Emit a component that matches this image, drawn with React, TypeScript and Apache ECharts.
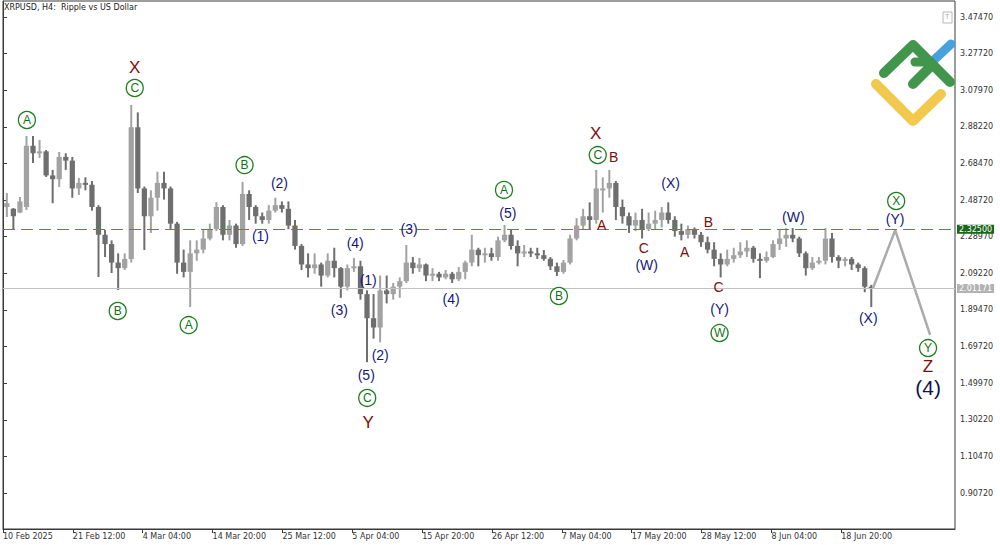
import React, { useEffect, useRef } from "react";
import * as echarts from "echarts";

// ---- time base (H4 bars counted from the first visible bar) ----
const FIRST_BAR_TIME = Date.UTC(2025, 1, 10, 20);
const FIRST_DAY = Date.UTC(2025, 1, 11);
const H4_MS = 4 * 3600 * 1000;
const DAY_MS = 24 * 3600 * 1000;

// ---- daily OHLC (11 Feb 2025 .. 23 Jun 2025) ----
const opens = [
  2.45, 2.44, 2.42, 2.45, 2.78, 2.74, 2.75, 2.62, 2.60, 2.72,
  2.70, 2.55, 2.58, 2.57, 2.45, 2.30, 2.25, 2.15, 2.12, 2.17,
  2.88, 2.55, 2.40, 2.50, 2.58, 2.55, 2.36, 2.15, 2.10, 2.20,
  2.22, 2.28, 2.33, 2.45, 2.30, 2.35, 2.25, 2.52, 2.45, 2.40,
  2.38, 2.43, 2.46, 2.44, 2.35, 2.24, 2.14, 2.12, 2.14, 2.08,
  2.16, 2.12, 2.02, 2.12, 2.13, 1.98, 1.85, 1.80, 2.00, 1.98,
  2.02, 2.05, 2.15, 2.12, 2.14, 2.08, 2.09, 2.07, 2.09, 2.06,
  2.10, 2.15, 2.22, 2.19, 2.20, 2.18, 2.27, 2.30, 2.24, 2.20,
  2.21, 2.20, 2.19, 2.17, 2.13, 2.10, 2.15, 2.28, 2.35, 2.40,
  2.38, 2.55, 2.55, 2.58, 2.45, 2.40, 2.35, 2.38, 2.33, 2.36,
  2.38, 2.42, 2.38, 2.32, 2.30, 2.33, 2.30, 2.26, 2.22, 2.17,
  2.14, 2.17, 2.19, 2.21, 2.23, 2.17, 2.16, 2.18, 2.25, 2.28,
  2.30, 2.28, 2.20, 2.12, 2.15, 2.16, 2.28, 2.18, 2.16, 2.17,
  2.14, 2.12, 2.02,
];
const highs = [
  2.525, 2.444, 2.504, 2.833, 2.833, 2.811, 2.757, 2.65, 2.747, 2.74,
  2.72, 2.607, 2.61, 2.59, 2.46, 2.326, 2.27, 2.20, 2.20, 3.00,
  2.96, 2.56, 2.54, 2.64, 2.64, 2.56, 2.37, 2.22, 2.27, 2.27,
  2.33, 2.36, 2.476, 2.46, 2.38, 2.36, 2.585, 2.54, 2.46, 2.42,
  2.46, 2.50, 2.48, 2.48, 2.38, 2.25, 2.20, 2.20, 2.15, 2.20,
  2.23, 2.126, 2.14, 2.175, 2.16, 2.00, 1.98, 2.08, 2.08, 2.04,
  2.07, 2.245, 2.18, 2.175, 2.145, 2.12, 2.10, 2.11, 2.10, 2.126,
  2.16, 2.30, 2.23, 2.23, 2.23, 2.29, 2.353, 2.33, 2.27, 2.245,
  2.23, 2.23, 2.218, 2.18, 2.15, 2.164, 2.30, 2.39, 2.44, 2.475,
  2.65, 2.61, 2.65, 2.59, 2.49, 2.42, 2.42, 2.44, 2.42, 2.43,
  2.45, 2.475, 2.40, 2.36, 2.35, 2.34, 2.315, 2.29, 2.26, 2.20,
  2.22, 2.23, 2.26, 2.27, 2.24, 2.20, 2.21, 2.27, 2.326, 2.336,
  2.336, 2.29, 2.21, 2.18, 2.18, 2.336, 2.31, 2.19, 2.18, 2.18,
  2.15, 2.13, 2.03,
];
const lows = [
  2.396, 2.331, 2.417, 2.434, 2.687, 2.714, 2.612, 2.47, 2.558, 2.65,
  2.50, 2.515, 2.54, 2.43, 2.072, 2.18, 2.094, 2.002, 2.11, 2.15,
  2.525, 2.218, 2.31, 2.43, 2.49, 2.33, 2.09, 2.07, 1.91, 2.16,
  2.20, 2.27, 2.32, 2.27, 2.27, 2.23, 2.24, 2.38, 2.36, 2.36,
  2.36, 2.42, 2.42, 2.33, 2.22, 2.11, 2.07, 2.09, 2.02, 2.07,
  2.07, 1.96, 2.00, 2.10, 1.95, 1.613, 1.74, 1.72, 1.93, 1.95,
  1.96, 2.04, 2.09, 2.10, 2.05, 2.05, 2.05, 2.06, 2.04, 2.05,
  2.06, 2.13, 2.13, 2.15, 2.16, 2.16, 2.26, 2.22, 2.13, 2.18,
  2.18, 2.17, 2.16, 2.11, 2.078, 2.09, 2.14, 2.27, 2.33, 2.33,
  2.36, 2.42, 2.50, 2.38, 2.36, 2.31, 2.32, 2.28, 2.32, 2.33,
  2.34, 2.36, 2.29, 2.27, 2.28, 2.28, 2.235, 2.20, 2.13, 2.07,
  2.13, 2.15, 2.175, 2.18, 2.15, 2.066, 2.15, 2.175, 2.218, 2.235,
  2.26, 2.18, 2.08, 2.11, 2.14, 2.14, 2.15, 2.12, 2.13, 2.11,
  2.10, 1.99, 1.91,
];
const closes = [
  2.47, 2.40, 2.48, 2.78, 2.74, 2.75, 2.62, 2.60, 2.72, 2.70,
  2.55, 2.58, 2.57, 2.45, 2.30, 2.25, 2.15, 2.12, 2.17, 2.88,
  2.55, 2.40, 2.50, 2.58, 2.55, 2.36, 2.15, 2.10, 2.20, 2.22,
  2.28, 2.33, 2.45, 2.30, 2.35, 2.25, 2.52, 2.45, 2.40, 2.38,
  2.43, 2.46, 2.44, 2.35, 2.24, 2.14, 2.12, 2.14, 2.08, 2.16,
  2.12, 2.02, 2.12, 2.13, 1.98, 1.85, 1.80, 2.00, 1.98, 2.02,
  2.05, 2.15, 2.12, 2.14, 2.08, 2.09, 2.07, 2.09, 2.06, 2.10,
  2.15, 2.22, 2.19, 2.20, 2.18, 2.27, 2.30, 2.24, 2.20, 2.21,
  2.20, 2.19, 2.17, 2.13, 2.10, 2.15, 2.28, 2.35, 2.40, 2.38,
  2.55, 2.55, 2.58, 2.45, 2.40, 2.35, 2.38, 2.33, 2.36, 2.38,
  2.42, 2.38, 2.32, 2.30, 2.33, 2.30, 2.26, 2.22, 2.17, 2.14,
  2.17, 2.19, 2.21, 2.23, 2.17, 2.16, 2.18, 2.25, 2.28, 2.30,
  2.28, 2.20, 2.12, 2.15, 2.16, 2.28, 2.18, 2.16, 2.17, 2.14,
  2.12, 2.02, 2.01171,
];

// ---- axes ----
const xTickBars = [0, 64, 128, 192, 256, 320, 384, 448, 512, 576, 640, 704, 768];
const xTickLabels = [
  "10 Feb 2025", "21 Feb 12:00", "4 Mar 04:00", "14 Mar 20:00", "25 Mar 12:00",
  "5 Apr 04:00", "15 Apr 20:00", "26 Apr 12:00", "7 May 04:00", "17 May 20:00",
  "28 May 12:00", "8 Jun 04:00", "18 Jun 20:00",
];
const yTickValues = [
  3.4747, 3.2772, 3.0797, 2.8822, 2.6847, 2.4872, 2.2897,
  2.0922, 1.8947, 1.6972, 1.4997, 1.3022, 1.1047, 0.9072,
];
const X_MIN = 0;
const X_MAX = 872.2;
const Y_MIN = 0.7131;
const Y_MAX = 3.561;

// ---- levels ----
const levelPrice = 2.325;
const lastPrice = 2.01171;

// ---- forecast path (H4 bar index, price) ----
const forecastBars = [797, 817.4, 849.4];
const forecastPrices = [2.01171, 2.325, 1.76];

// ---- wave labels (H4 bar index, price, text) ----
const circledLabels: [number, number, string][] = [
  [21.9, 2.919, "A"], [120.7, 3.092, "C"], [105.1, 1.889, "B"], [170.1, 1.813, "A"],
  [221.3, 2.676, "B"], [333.7, 1.42, "C"], [459, 2.542, "A"], [509.3, 1.97, "B"],
  [544.9, 2.73, "C"], [656.5, 1.77, "W"], [818.3, 2.482, "X"], [847.5, 1.689, "Y"],
];
const blueLabels: [number, number, string][] = [
  [253.3, 2.579, "(2)"], [235.9, 2.293, "(1)"], [322.7, 2.256, "(4)"], [308.1, 1.894, "(3)"],
  [334.6, 2.056, "(1)"], [345.6, 1.652, "(2)"], [332.8, 1.544, "(5)"], [372.1, 2.331, "(3)"],
  [410.5, 1.954, "(4)"], [462.6, 2.418, "(5)"], [589.7, 2.137, "(W)"], [611.7, 2.579, "(X)"],
  [656.5, 1.9, "(Y)"], [724.1, 2.396, "(W)"], [817.4, 2.385, "(Y)"], [792.7, 1.851, "(X)"],
];
const redBigLabels: [number, number, string][] = [
  [120.7, 3.2, "X"], [334.6, 1.29, "Y"], [543.1, 2.849, "X"], [847.5, 1.587, "Z"],
];
const redSmallLabels: [number, number, string][] = [
  [559.5, 2.72, "B"], [548.6, 2.353, "A"], [587, 2.229, "C"],
  [646.4, 2.369, "B"], [624.5, 2.207, "A"], [655.5, 2.018, "C"],
];
const degreeLabels: [number, number, string][] = [[847.5, 1.479, "(4)"]];

const FONT = "DejaVu Sans";

function labelSeries(data: [number, number, string][], color: string, size: number, circled = false) {
  return {
    type: "scatter",
    data,
    symbol: "circle",
    symbolSize: circled ? 17 : 1,
    itemStyle: circled
      ? { color: "#ffffff", borderColor: "#1f7f1f", borderWidth: 1.3, opacity: 1 }
      : { color: "rgba(0,0,0,0)", borderWidth: 0, opacity: 1 },
    label: {
      show: true,
      position: "inside",
      formatter: (p: any) => p.data[2],
      color,
      opacity: 1,
      textBorderWidth: 0,
      fontSize: size,
      fontFamily: "Liberation Sans",
    },
    emphasis: { disabled: true },
    labelLayout: { hideOverlap: false },
    z: 10,
    clip: false,
    silent: true,
  };
}

export default function App() {
  const ref = useRef<HTMLDivElement>(null);
  useEffect(() => {
    if (!ref.current) return;
    const chart = echarts.init(ref.current, undefined, { renderer: "svg" });

    const candles = opens.map((o, i) => {
      const dayStart = FIRST_DAY + i * DAY_MS;
      const bar = (dayStart - FIRST_BAR_TIME) / H4_MS + 2.5;
      return [bar, o, closes[i], lows[i], highs[i]];
    });

    const option: any = {
      animation: false,
      backgroundColor: "#ffffff",
      grid: { left: 1, top: 1, right: 45, bottom: 16, show: true, borderColor: "#3a3a3a", borderWidth: 1 },
      xAxis: {
        type: "value",
        min: X_MIN,
        max: X_MAX,
        splitLine: { show: false },
        axisLine: { show: true, lineStyle: { color: "#3a3a3a" } },
        axisTick: { show: true, customValues: xTickBars, length: 4, lineStyle: { color: "#3a3a3a" } },
        axisLabel: {
          customValues: xTickBars,
          formatter: (v: number) => xTickLabels[Math.round(v / 64)] ?? "",
          align: "left",
          margin: 3,
          fontSize: 8,
          fontFamily: FONT,
          color: "#333",
        },
      },
      yAxis: {
        type: "value",
        position: "right",
        min: Y_MIN,
        max: Y_MAX,
        splitLine: { show: false },
        axisLine: { show: true, lineStyle: { color: "#3a3a3a" } },
        axisTick: { show: true, customValues: yTickValues, length: 4, lineStyle: { color: "#3a3a3a" } },
        axisLabel: {
          customValues: yTickValues,
          formatter: (v: number) => v.toFixed(5),
          margin: 5,
          fontSize: 8,
          fontFamily: FONT,
          color: "#333",
        },
      },
      series: [
        {
          type: "custom",
          data: candles,
          encode: { x: 0, y: [1, 2, 3, 4] },
          clip: true,
          renderItem: (params: any, api: any) => {
            const x = api.value(0);
            const o = api.value(1);
            const c = api.value(2);
            const l = api.value(3);
            const h = api.value(4);
            const pH = api.coord([x, h]);
            const pL = api.coord([x, l]);
            const pO = api.coord([x, o]);
            const pC = api.coord([x, c]);
            const w = api.size([6, 0])[0] * 0.8;
            const color = c >= o ? "#a2a2a2" : "#6e6e6e";
            return {
              type: "group",
              children: [
                {
                  type: "rect",
                  shape: { x: pH[0] - 1, y: pH[1], width: 2, height: Math.max(1, pL[1] - pH[1]) },
                  style: { fill: color },
                },
                {
                  type: "rect",
                  shape: {
                    x: pO[0] - w / 2,
                    y: Math.min(pO[1], pC[1]),
                    width: w,
                    height: Math.max(2, Math.abs(pO[1] - pC[1])),
                  },
                  style: { fill: color },
                },
              ],
            };
          },
          z: 2,
        },
        {
          type: "line",
          data: forecastBars.map((b, i) => [b, forecastPrices[i]]),
          symbol: "none",
          lineStyle: { color: "#ababab", width: 2.5 },
          z: 3,
          markLine: {
            symbol: ["none", "none"],
            silent: true,
            animation: false,
            data: [
              {
                yAxis: levelPrice,
                lineStyle: { color: "#4e8e4e", type: [12, 6], width: 1 },
                label: {
                  show: true,
                  position: "end",
                  formatter: levelPrice.toFixed(5),
                  backgroundColor: "#1a661a",
                  color: "#ffffff",
                  padding: [1, 2, 0, 2],
                  fontSize: 8,
                  fontFamily: FONT,
                  distance: 2,
                },
              },
              {
                yAxis: lastPrice,
                lineStyle: { color: "#c2c2c2", type: "solid", width: 1 },
                label: {
                  show: true,
                  position: "end",
                  formatter: lastPrice.toFixed(5),
                  backgroundColor: "#b2b2b2",
                  color: "#ffffff",
                  padding: [1, 2, 0, 2],
                  fontSize: 8,
                  fontFamily: FONT,
                  distance: 2,
                },
              },
            ],
          },
        },
        labelSeries(circledLabels, "#137313", 12, true),
        labelSeries(blueLabels, "#16167a", 14),
        labelSeries(redBigLabels, "#7f0c0c", 17),
        labelSeries(redSmallLabels, "#7f0c0c", 14),
        labelSeries(degreeLabels, "#121252", 21),
      ],
      graphic: [
        {
          type: "text",
          left: 4,
          top: 3,
          style: { text: "XRPUSD, H4:  Ripple vs US Dollar", fontSize: 8, fontFamily: FONT, fill: "#222" },
        },
        {
          type: "group",
          children: [
            { type: "rect", shape: { x: 943, y: 12, width: 9, height: 11 }, style: { fill: "none", stroke: "#b8b8b8", lineWidth: 1 } },
            { type: "text", x: 945, y: 13, style: { text: "T", fontSize: 7, fontFamily: FONT, fill: "#aaaaaa" } },
          ],
        },
        {
          type: "group",
          children: [
            { type: "polyline", shape: { points: [[934, 60], [951, 44]] }, style: { stroke: "#46a1de", lineWidth: 9, lineCap: "round", fill: "none" } },
            { type: "polyline", shape: { points: [[884, 73], [913, 45], [950, 82]] }, style: { stroke: "#41964b", lineWidth: 10, lineCap: "round", lineJoin: "round", fill: "none" } },
            { type: "polyline", shape: { points: [[913, 84], [929, 68]] }, style: { stroke: "#41964b", lineWidth: 10, lineCap: "round", fill: "none" } },
            { type: "polyline", shape: { points: [[915, 62], [931, 62]] }, style: { stroke: "#41964b", lineWidth: 9, lineCap: "round", fill: "none" } },
            { type: "polyline", shape: { points: [[876, 84], [913, 121], [941, 94]] }, style: { stroke: "#f2c94c", lineWidth: 10, lineCap: "round", lineJoin: "round", fill: "none" } },
          ],
        },
      ],
    };
    chart.setOption(option);
    return () => chart.dispose();
  }, []);
  return (
    <div
      ref={ref}
      style={{ position: "fixed", left: 0, top: 0, width: 1000, height: 545, background: "#fff" }}
    />
  );
}
